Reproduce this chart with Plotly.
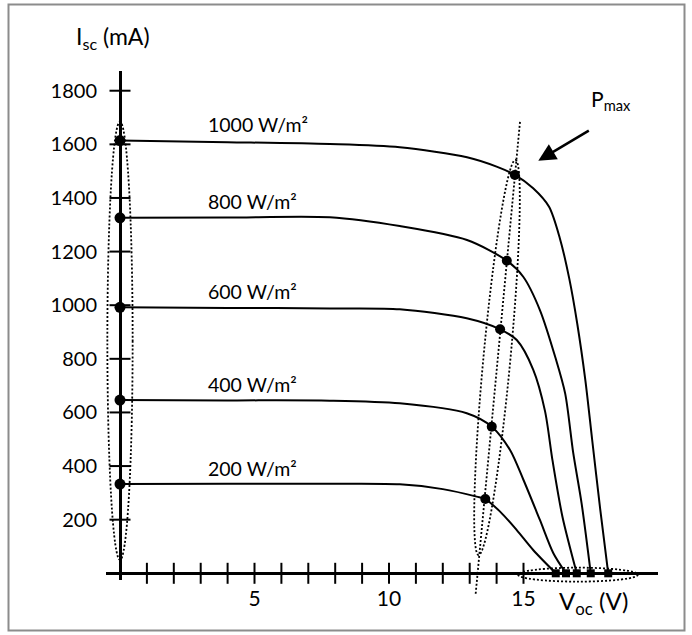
import numpy as np
import plotly.graph_objects as go

# ---------------- data ----------------
labels = ["1000 W/m²", "800 W/m²", "600 W/m²", "400 W/m²", "200 W/m²"]

v_1000 = [0, 4.0, 7.8, 10.4, 12.9, 14.0, 14.68, 15.36, 15.95, 16.35, 16.7, 17.0, 17.3, 17.55, 17.85, 18.15]
i_1000 = [1614, 1608, 1601, 1589, 1552, 1517, 1486, 1436, 1367, 1250, 1100, 930, 720, 500, 240, 0]

v_800 = [0, 4.0, 7.8, 10.4, 12.9, 14.38, 14.99, 15.61, 16.2, 16.55, 16.85, 17.16, 17.5]
i_800 = [1326, 1327, 1328, 1295, 1243, 1166, 1106, 982, 800, 670, 448, 261, 0]

v_600 = [0, 4.0, 7.8, 10.4, 12.89, 14.13, 14.75, 15.36, 15.8, 16.08, 16.45, 16.98]
i_600 = [992, 990, 988, 985, 951, 910, 870, 760, 605, 420, 210, 0]

v_400 = [0, 4.0, 7.8, 10.4, 12.89, 13.82, 14.5, 15.0, 15.61, 16.11, 16.58]
i_400 = [646, 645, 644, 634, 597, 547, 460, 348, 199, 75, 0]

v_200 = [0, 4.0, 7.8, 10.4, 12.0, 13.26, 13.58, 14.13, 14.75, 15.36, 16.2]
i_200 = [333, 334, 334, 332, 314, 286, 277, 230, 161, 87, 0]

pmax_v = [14.68, 14.38, 14.13, 13.82, 13.58]
pmax_i = [1486, 1166, 910, 547, 277]

x_ticks = list(range(1, 16))
x_label_vals = [5, 10, 15]
x_label_text = ["5", "10", "15"]
y_ticks = [200, 400, 600, 800, 1000, 1200, 1400, 1600, 1800]
y_label_text = [str(v) for v in y_ticks]

curves_v = [v_1000, v_800, v_600, v_400, v_200]
curves_i = [i_1000, i_800, i_600, i_400, i_200]
isc = [c[0] for c in curves_i]
voc = [c[-1] for c in curves_v]

# ---------------- geometry ----------------
W, H = 692, 635
L, R, T, B = 106, 658, 71, 580
X0, SX = 120.0, 26.9
Y0, SY = 573.3, 0.2681
xr = [(L - X0) / SX, (R - X0) / SX]
yr = [(Y0 - B) / SY, (Y0 - T) / SY]

def v2px(v): return X0 + SX * v
def i2py(i): return Y0 - SY * i
def px2v(px): return (px - X0) / SX
def py2i(py): return (Y0 - py) / SY
def yp(i): return (i - yr[0]) / (yr[1] - yr[0])
def xpap(px): return (px - L) / (R - L)
def ypap(py): return (B - py) / (B - T)

FONT = "Lato"
fig = go.Figure()

# curves
for cv, ci in zip(curves_v, curves_i):
    fig.add_trace(go.Scatter(x=cv, y=ci, mode="lines",
                             line=dict(color="black", width=2, shape="spline", smoothing=0.8),
                             hoverinfo="skip", showlegend=False))

# axis tick marks (crossing)
fig.add_trace(go.Scatter(x=x_ticks, y=[0] * len(x_ticks), mode="markers", cliponaxis=False,
                         marker=dict(symbol="line-ns", size=15, line=dict(width=2, color="black")),
                         hoverinfo="skip", showlegend=False))
fig.add_trace(go.Scatter(x=[0] * len(y_ticks), y=y_ticks, mode="markers", cliponaxis=False,
                         marker=dict(symbol="line-ew", size=15, line=dict(width=2, color="black")),
                         hoverinfo="skip", showlegend=False))

# dots
fig.add_trace(go.Scatter(x=[0] * len(isc), y=isc, mode="markers", cliponaxis=False,
                         marker=dict(symbol="circle", size=11, color="black"),
                         hoverinfo="skip", showlegend=False))
fig.add_trace(go.Scatter(x=pmax_v, y=pmax_i, mode="markers", cliponaxis=False,
                         marker=dict(symbol="circle", size=10, color="black"),
                         hoverinfo="skip", showlegend=False))
fig.add_trace(go.Scatter(x=voc, y=[0] * len(voc), mode="markers", cliponaxis=False,
                         marker=dict(symbol="square", size=8, color="black"),
                         hoverinfo="skip", showlegend=False))

DOT = dict(color="black", width=1.8, dash="2px,2px")
shapes = []
# frame
shapes.append(dict(type="rect", xref="paper", yref="paper",
                   x0=xpap(8.5), x1=xpap(684.5), y0=ypap(630.5), y1=ypap(4.5),
                   line=dict(color="#8c8c8c", width=2)))
# ellipse around Isc
shapes.append(dict(type="circle", xref="x", yref="y", x0=-0.47, x1=0.47,
                   y0=50, y1=max(isc) + 70, line=DOT))
# ellipse around Voc
shapes.append(dict(type="circle", xref="x", yref="paper", x0=min(voc) - 1.4, x1=max(voc) + 1.1,
                   y0=yp(-31), y1=yp(21), line=DOT))
# tilted ellipse around Pmax
tx, ty = v2px(14.70), i2py(1542)
bx, by = v2px(13.33), i2py(68)
cx, cy = (tx + bx) / 2, (ty + by) / 2
a = np.hypot(tx - bx, ty - by) / 2
ux, uy = (tx - bx) / (2 * a), (ty - by) / (2 * a)
nx, ny = -uy, ux
bmin = 13.5
t = np.linspace(0, 2 * np.pi, 181)
ex = cx + a * np.cos(t) * ux + bmin * np.sin(t) * nx
ey = cy + a * np.cos(t) * uy + bmin * np.sin(t) * ny
path = "M " + " L ".join(f"{px2v(x):.4f},{py2i(y):.2f}" for x, y in zip(ex, ey)) + " Z"
shapes.append(dict(type="path", xref="x", yref="y", path=path, line=DOT))
# straight dotted line through Pmax
shapes.append(dict(type="line", xref="x", yref="paper", x0=14.87, x1=13.22,
                   y0=yp(1684), y1=yp(-78), line=DOT))

annotations = []
for lab, i0 in zip(labels, isc):
    annotations.append(dict(x=3.2, y=i0, xref="x", yref="y", text=lab, showarrow=False,
                            xanchor="left", yanchor="middle", yshift=16,
                            font=dict(family=FONT, size=19.5, color="black")))
annotations.append(dict(x=xpap(113), y=ypap(38), xref="paper", yref="paper",
                        text="I<sub>sc</sub> (mA)", showarrow=False,
                        xanchor="center", yanchor="middle",
                        font=dict(family=FONT, size=23, color="black")))
annotations.append(dict(x=xpap(593), y=ypap(602), xref="paper", yref="paper",
                        text="V<sub>oc</sub> (V)", showarrow=False,
                        xanchor="center", yanchor="middle",
                        font=dict(family=FONT, size=24, color="black")))
annotations.append(dict(x=px2v(611), y=py2i(100), xref="x", yref="y",
                        text="P<sub>max</sub>", showarrow=False,
                        xanchor="center", yanchor="middle",
                        font=dict(family=FONT, size=21, color="black")))
annotations.append(dict(x=px2v(538.3), y=py2i(160.7), xref="x", yref="y",
                        text="", showarrow=True, arrowhead=2, arrowsize=1.4, arrowwidth=2.5,
                        arrowcolor="black", ax=52, ay=-31))

fig.update_layout(
    width=W, height=H,
    margin=dict(l=L, r=W - R, t=T, b=H - B, pad=0, autoexpand=False),
    paper_bgcolor="white", plot_bgcolor="white",
    showlegend=False,
    shapes=shapes, annotations=annotations,
    font=dict(family=FONT, color="black"),
    xaxis=dict(range=xr, showgrid=False, showline=False, zeroline=True,
               zerolinecolor="black", zerolinewidth=3, ticks="", ticklabelstandoff=4,
               tickmode="array", tickvals=x_label_vals, ticktext=x_label_text,
               tickfont=dict(family=FONT, size=21, color="black"), fixedrange=True),
    yaxis=dict(range=yr, showgrid=False, showline=False, zeroline=True,
               zerolinecolor="black", zerolinewidth=3, ticks="", ticklabelstandoff=8,
               tickmode="array", tickvals=y_ticks, ticktext=y_label_text,
               tickfont=dict(family=FONT, size=20, color="black"), fixedrange=True),
)

fig.write_html("out.html", config={"displayModeBar": False},
               post_script="document.body.style.margin='0';")
